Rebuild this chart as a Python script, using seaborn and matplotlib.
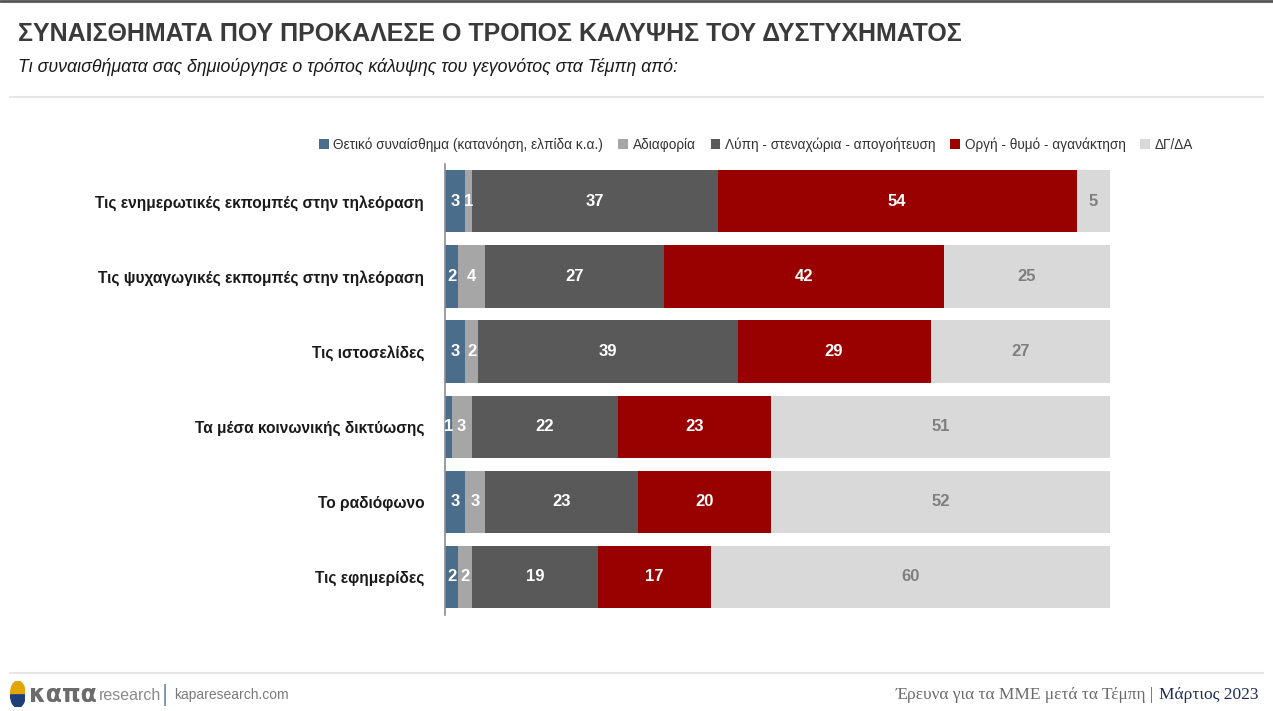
import matplotlib
matplotlib.use("Agg")
import numpy as np
import pandas as pd
import matplotlib.pyplot as plt
import seaborn as sns
from matplotlib.patches import Patch, Wedge
from matplotlib.lines import Line2D

# ---- data ----
categories = [
    "Τις ενημερωτικές εκπομπές στην τηλεόραση",
    "Τις ψυχαγωγικές εκπομπές στην τηλεόραση",
    "Τις ιστοσελίδες",
    "Τα μέσα κοινωνικής δικτύωσης",
    "Το ραδιόφωνο",
    "Τις εφημερίδες",
]
series_names = [
    "Θετικό συναίσθημα (κατανόηση, ελπίδα κ.α.)",
    "Αδιαφορία",
    "Λύπη - στεναχώρια - απογοήτευση",
    "Οργή - θυμό - αγανάκτηση",
    "ΔΓ/ΔΑ",
]
positive = [3, 2, 3, 1, 3, 2]
indifference = [1, 4, 2, 3, 3, 2]
sadness = [37, 27, 39, 22, 23, 19]
anger = [54, 42, 29, 23, 20, 17]
dk_na = [5, 25, 27, 51, 52, 60]

colors = ["#4a6d8c", "#a6a6a6", "#595959", "#990000", "#d9d9d9"]
label_colors = ["white", "white", "white", "white", "#7f7f7f"]

values = [positive, indifference, sadness, anger, dk_na]
df = pd.DataFrame({"cat": categories})
for name, vals in zip(series_names, values):
    df[name] = vals
cum = df[series_names].cumsum(axis=1).clip(upper=100)

sns.set_theme(style="white")
plt.rcParams["font.family"] = ["Liberation Sans", "DejaVu Sans"]

fig = plt.figure(figsize=(12.73, 7.11), dpi=100)
ax = fig.add_axes([0.3496, 0.1357, 0.5224, 0.634])

# stacked bars: draw cumulative totals from the last series backwards
for i in range(len(series_names) - 1, -1, -1):
    plot_df = pd.DataFrame({"cat": categories, "v": cum[series_names[i]]})
    sns.barplot(data=plot_df, x="v", y="cat", color=colors[i], orient="h",
                width=0.83, errorbar=None, saturation=1, ax=ax, linewidth=0)

# segment labels
for r in range(len(categories)):
    start = 0
    for i, name in enumerate(series_names):
        end = cum.loc[r, name]
        mid = (start + end) / 2
        ax.text(mid, r, str(df.loc[r, name]), ha="center", va="center",
                color=label_colors[i], fontsize=12, fontweight="bold")
        start = end

ax.set_xlim(0, 100)
ax.set_ylim(5.5, -0.5)
ax.set_xlabel("")
ax.set_ylabel("")
ax.set_xticks([])
ax.tick_params(axis="y", length=0, pad=15)
ax.set_yticks(range(len(categories)))
ax.set_yticklabels(categories, fontsize=11.2, fontweight="bold", color="#1a1a1a")
for side in ["top", "right", "bottom"]:
    ax.spines[side].set_visible(False)
ax.spines["left"].set_color("#8c8c8c")
ax.spines["left"].set_linewidth(1.2)

# legend
handles = [Patch(facecolor=c, edgecolor="none") for c in colors]
fig.legend(handles, series_names, loc="center", bbox_to_anchor=(0.594, 0.797),
           ncol=5, frameon=False, fontsize=9.8, handlelength=0.7, handleheight=0.7,
           handletextpad=0.35, columnspacing=1.1, labelcolor="#333333")

# titles
fig.text(0.014, 0.952, "ΣΥΝΑΙΣΘΗΜΑΤΑ ΠΟΥ ΠΡΟΚΑΛΕΣΕ Ο ΤΡΟΠΟΣ ΚΑΛΥΨΗΣ ΤΟΥ ΔΥΣΤΥΧΗΜΑΤΟΣ",
         fontsize=18, fontweight="bold", color="#3a3a3a", va="center")
fig.text(0.014, 0.906, "Τι συναισθήματα σας δημιούργησε ο τρόπος κάλυψης του γεγονότος στα Τέμπη από:",
         fontsize=12.8, style="italic", color="#1a1a1a", va="center")

# separator lines
fig.add_artist(Line2D([0.0, 1.0], [0.999, 0.999], color="#555555", lw=2))
fig.add_artist(Line2D([0.008, 0.992], [0.864, 0.864], color="#e6e6e6", lw=1.5))
fig.add_artist(Line2D([0.008, 0.992], [1 - 673 / 711, 1 - 673 / 711], color="#e6e6e6", lw=1.5))

# footer logo
lax = fig.add_axes([0.008, 0.005, 0.012, 0.037])
lax.add_patch(Wedge((0.5, 0.52), 0.48, 0, 180, color="#e3a500"))
lax.add_patch(Wedge((0.5, 0.48), 0.48, 180, 360, color="#1f3f7a"))
lax.set_xlim(0, 1)
lax.set_ylim(0, 1)
lax.axis("off")

fy = 1 - 695 / 711
fig.text(0.023, fy, "καπα", fontsize=17, fontweight="bold", color="#6b6b6b", va="center",
         family=["DejaVu Sans"])
fig.text(0.0775, fy, "research", fontsize=11.5, color="#8a8a8a", va="center")
fig.text(0.1275, fy, "|", fontsize=17, color="#7a93b3", va="center")
fig.text(0.1365, fy, "kaparesearch.com", fontsize=10, color="#7a7a7a", va="center")

# right footer: place date first, then the rest to its left
renderer = fig.canvas.get_renderer()
t_date = fig.text(0.9885, fy, "Μάρτιος 2023", fontsize=12.5, color="#1f2d5a", ha="right",
                  va="center", family=["Liberation Serif", "DejaVu Serif"])
bb = t_date.get_window_extent(renderer)
x_left = bb.x0 / fig.bbox.width - 0.004
fig.text(x_left, fy, "Έρευνα για τα ΜΜΕ μετά τα Τέμπη |", fontsize=12.5, color="#6b6b6b",
         ha="right", va="center", family=["Liberation Serif", "DejaVu Serif"])

fig.savefig("out.png", dpi=100)
